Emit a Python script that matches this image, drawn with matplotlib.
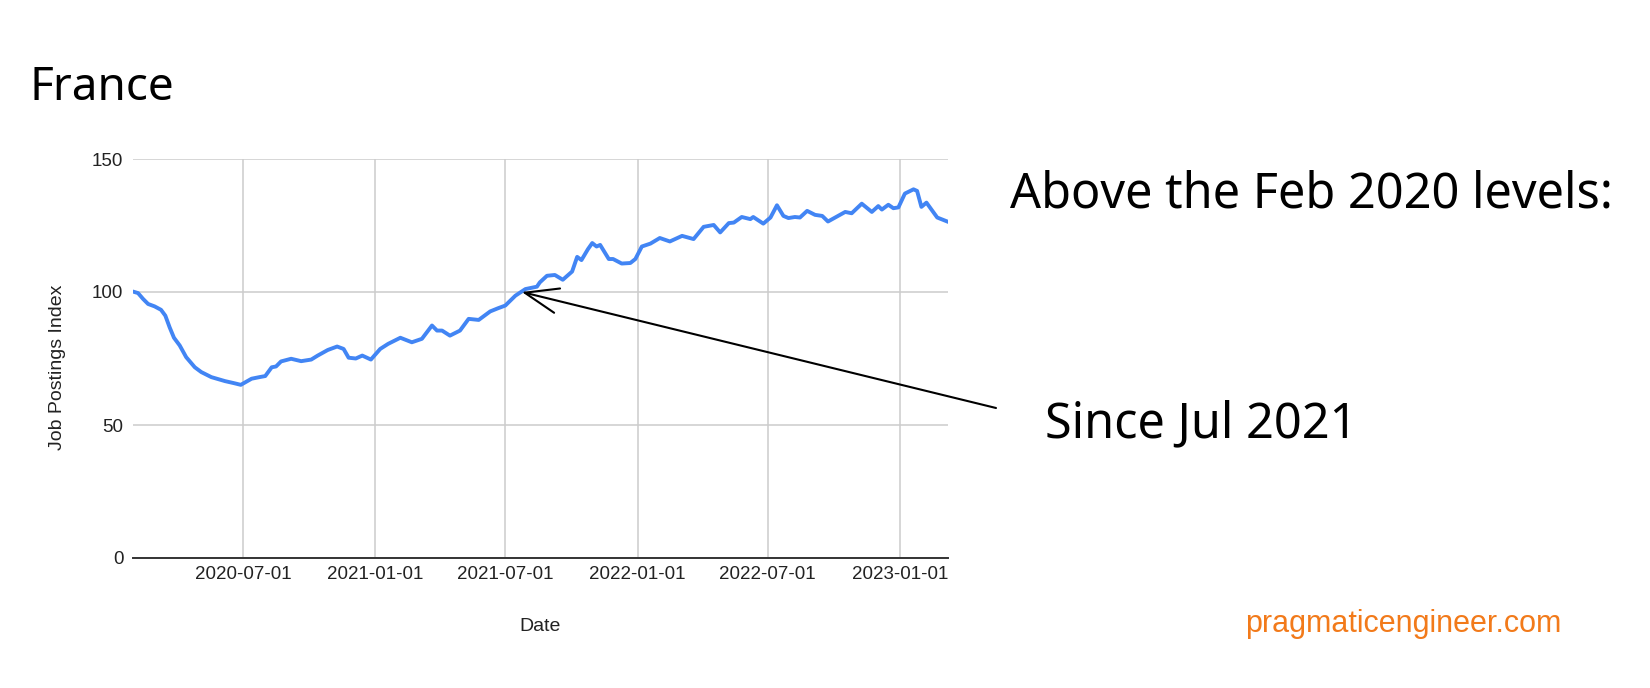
import pandas as pd
import matplotlib.pyplot as plt
import matplotlib.dates as mdates

# Indeed job postings index, France
dates = [
    '2020-02-01', '2020-02-06', '2020-02-13', '2020-02-20', '2020-02-29', '2020-03-09',
    '2020-03-15', '2020-03-21', '2020-03-27', '2020-04-04', '2020-04-13', '2020-04-25',
    '2020-05-04', '2020-05-18', '2020-06-06', '2020-06-19', '2020-06-28', '2020-07-13',
    '2020-07-24', '2020-08-01', '2020-08-10', '2020-08-16', '2020-08-23', '2020-09-06',
    '2020-09-20', '2020-10-04', '2020-10-13', '2020-10-27', '2020-11-09', '2020-11-18',
    '2020-11-25', '2020-12-05', '2020-12-14', '2020-12-26', '2021-01-08', '2021-01-19',
    '2021-02-05', '2021-02-21', '2021-03-07', '2021-03-14', '2021-03-21', '2021-03-28',
    '2021-04-04', '2021-04-15', '2021-04-29', '2021-05-11', '2021-05-25', '2021-06-10',
    '2021-06-21', '2021-07-01', '2021-07-15', '2021-07-29', '2021-08-14', '2021-08-18',
    '2021-08-28', '2021-09-08', '2021-09-19', '2021-10-02', '2021-10-09', '2021-10-15',
    '2021-10-24', '2021-10-30', '2021-11-05', '2021-11-10', '2021-11-22', '2021-11-28',
    '2021-12-10', '2021-12-22', '2021-12-29', '2022-01-07', '2022-01-19', '2022-02-01',
    '2022-02-15', '2022-03-04', '2022-03-20', '2022-04-03', '2022-04-17', '2022-04-26',
    '2022-05-08', '2022-05-15', '2022-05-26', '2022-06-07', '2022-06-11', '2022-06-25',
    '2022-07-05', '2022-07-14', '2022-07-23', '2022-07-30', '2022-08-08', '2022-08-15',
    '2022-08-25', '2022-09-05', '2022-09-15', '2022-09-23', '2022-10-03', '2022-10-17',
    '2022-10-26', '2022-11-09', '2022-11-23', '2022-12-02', '2022-12-07', '2022-12-16',
    '2022-12-23', '2022-12-30', '2023-01-08', '2023-01-20', '2023-01-25', '2023-01-31',
    '2023-02-07', '2023-02-22', '2023-03-08',
]
index = [
    100.0, 99.6, 97.4, 95.5, 94.6, 93.3,
    91.1, 86.7, 82.8, 79.9, 75.5, 71.7,
    69.9, 68.0, 66.5, 65.7, 65.1, 67.4,
    68.0, 68.4, 71.7, 72.0, 73.9, 74.9,
    74.0, 74.6, 76.1, 78.2, 79.5, 78.6,
    75.3, 75.0, 76.1, 74.6, 78.6, 80.5,
    82.8, 81.1, 82.4, 84.9, 87.4, 85.5,
    85.5, 83.6, 85.5, 89.9, 89.5, 92.7,
    93.9, 94.9, 98.6, 101.1, 102.0, 103.6,
    106.1, 106.4, 104.6, 107.7, 113.2, 112.0,
    116.1, 118.4, 117.1, 117.7, 112.4, 112.4,
    110.7, 110.9, 112.4, 117.1, 118.2, 120.3,
    119.0, 121.1, 119.9, 124.5, 125.2, 122.4,
    125.9, 126.1, 128.2, 127.4, 128.2, 125.7,
    128.0, 132.6, 128.6, 127.8, 128.2, 128.0,
    130.5, 129.0, 128.6, 126.5, 128.0, 130.1,
    129.6, 133.2, 130.1, 132.3, 131.0, 132.8,
    131.5, 131.8, 137.0, 138.6, 138.0, 132.0,
    133.6, 128.0, 126.5,
]
tick_dates = ['2020-07-01', '2021-01-01', '2021-07-01', '2022-01-01', '2022-07-01', '2023-01-01']
yticks = [0, 50, 100, 150]

df = pd.DataFrame({'date': pd.to_datetime(dates), 'index': index})

hand = 'Noto Sans'
chart_font = 'Liberation Sans'

fig = plt.figure(figsize=(16.5, 6.88), dpi=100)
ax = fig.add_axes([133 / 1650, 130 / 688, 815 / 1650, 399 / 688])

ax.plot(df['date'], df['index'], color='#4285f4', lw=2.8, solid_joinstyle='round')

ax.set_ylim(0, 150)
ax.set_xlim(pd.Timestamp('2020-01-30'), pd.Timestamp('2023-03-09'))
ax.set_yticks(yticks)
ax.set_xticks(pd.to_datetime(tick_dates))
ax.xaxis.set_major_formatter(mdates.DateFormatter('%Y-%m-%d'))

ax.grid(True, color='#cccccc', lw=1.1)
ax.set_axisbelow(True)
for s in ['top', 'right', 'left']:
    ax.spines[s].set_visible(False)
ax.spines['bottom'].set_color('#333333')
ax.spines['bottom'].set_linewidth(1.4)
ax.spines['bottom'].set_zorder(3)

ax.tick_params(axis='both', length=0, labelsize=13.5, labelcolor='#222222')
ax.tick_params(axis='x', pad=5.5)
ax.tick_params(axis='y', pad=7)
for lbl in ax.get_xticklabels() + ax.get_yticklabels():
    lbl.set_family(chart_font)

ax.set_xlabel('Date', fontsize=14, family=chart_font, color='#222222')
ax.xaxis.set_label_coords(0.5, -0.15)
ax.set_ylabel('Job Postings Index', fontsize=14, family=chart_font, color='#222222')
ax.yaxis.set_label_coords(-0.0824, 0.479)

# hand written notes
fig.text(0.018, 0.8547, 'France', fontsize=33, family=hand, va='baseline')
fig.text(0.612, 0.6977, 'Above the Feb 2020 levels:', fontsize=35, family=hand, va='baseline')
fig.text(0.6333, 0.3648, 'Since Jul 2021', fontsize=35, family=hand, va='baseline')

ax.annotate('', xy=(pd.Timestamp('2021-07-24'), 100), xycoords='data',
            xytext=(996, 688 - 408), textcoords='figure pixels',
            arrowprops=dict(arrowstyle='->,head_length=1.2,head_width=0.45',
                            mutation_scale=20, lw=1.5, color='black',
                            shrinkA=0, shrinkB=0),
            annotation_clip=False)

fig.text(0.7545, 0.082, 'pragmaticengineer.com', fontsize=22, family=chart_font,
         color='#f27a1a', va='baseline')

plt.savefig('out.png', dpi=100)
